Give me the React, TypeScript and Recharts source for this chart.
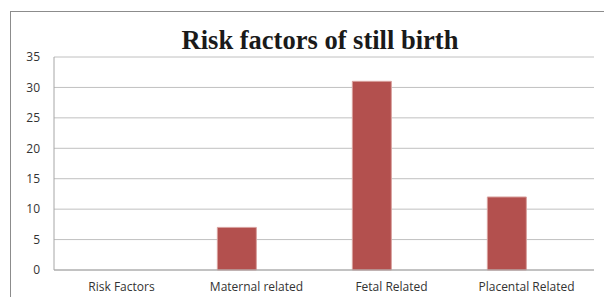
import React from 'react';
import { BarChart, Bar, XAxis, YAxis, CartesianGrid } from 'recharts';

const categories = ['Risk Factors', 'Maternal related', 'Fetal Related', 'Placental Related'];
const counts = [0, 7, 31, 12];
const emptySeries = [0, 0, 0, 0];
const yTicks = [0, 5, 10, 15, 20, 25, 30, 35];

const data = categories.map((name, i) => ({ name, count: counts[i], other: emptySeries[i] }));

const tickStyle = { fontFamily: '"Open Sans", sans-serif', fontSize: 12, fill: '#333' };

const App: React.FC = () => {
  return (
    <div style={{ position: 'absolute', left: 0, top: 0, width: 604, height: 297, background: '#fff', overflow: 'hidden' }}>
      <div style={{ position: 'absolute', left: 10, top: 11, width: 700, height: 400, borderLeft: '1px solid #8c8c8c', borderTop: '1px solid #8c8c8c' }} />
      <div style={{ position: 'absolute', left: 0, width: 640, top: 23, textAlign: 'center', fontFamily: '"Liberation Serif", serif', fontWeight: 'bold', fontSize: 26.5, lineHeight: '34px', color: '#1a1a1a' }}>
        Risk factors of still birth
      </div>
      <div style={{ position: 'absolute', left: 0, top: 0 }}>
        <BarChart width={604} height={297} data={data} margin={{ top: 57, right: 10, bottom: 0, left: 0 }} barCategoryGap="21%" barGap={0}>
          <CartesianGrid vertical={false} stroke="#c0c0c0" />
          <XAxis dataKey="name" height={27} tickLine={false} tickSize={0} tickMargin={12} stroke="#a6a6a6" tick={tickStyle} interval={0} />
          <YAxis domain={[0, 35]} ticks={yTicks} width={54} tickLine={false} tickSize={0} tickMargin={14} stroke="#a6a6a6" tick={tickStyle} />
          <Bar dataKey="count" fill="#B3504E" stroke="#D8A09E" strokeWidth={1} isAnimationActive={false} />
          <Bar dataKey="other" fill="#4F81BD" isAnimationActive={false} />
        </BarChart>
      </div>
    </div>
  );
};

export default App;
